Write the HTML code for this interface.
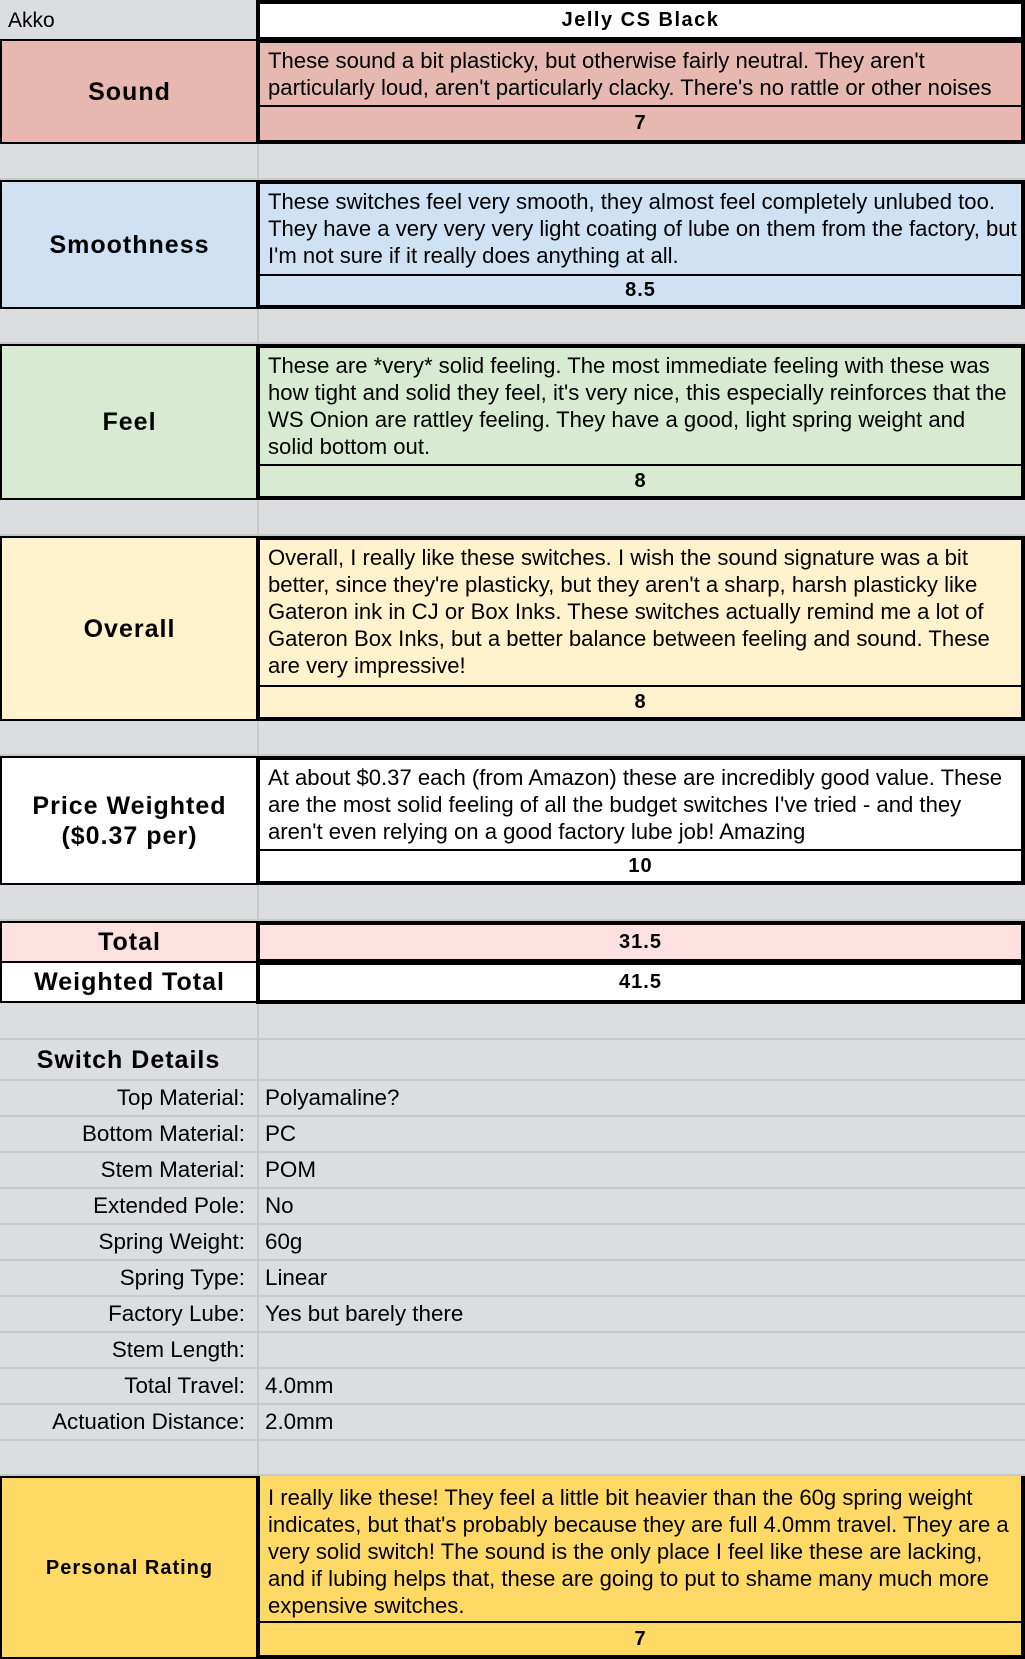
<!DOCTYPE html>
<html><head><meta charset="utf-8"><style>
*{box-sizing:border-box;margin:0;padding:0}
body{width:1025px;height:1659px;position:relative;background:#dcdddf;font-family:"Liberation Sans",Arial,sans-serif;color:#000;overflow:hidden}
.a{position:absolute}
.vl{position:absolute;left:257px;top:0;width:2px;height:1659px;background:#c9c9cb}
.hl{position:absolute;left:0;width:1025px;height:2px;background:#c9c9cb}
.lab{position:absolute;left:0;width:259px;border:2px solid #000;display:flex;align-items:center;justify-content:center;text-align:center;font-weight:bold;font-size:25px;letter-spacing:1px;line-height:30px}
.box{position:absolute;left:256px;width:769px;border:4px solid #000}
.desc{font-size:22.1px;line-height:27px;padding:4px 0 0 8px;border-bottom:2px solid #000;white-space:nowrap;overflow:hidden}
.score{font-weight:bold;font-size:20px;letter-spacing:1px;display:flex;align-items:center;justify-content:center}
.dl{position:absolute;left:0;width:257px;text-align:right;padding-right:12px;font-size:22.4px;height:36px;line-height:36px}
.dv{position:absolute;left:265px;font-size:22.4px;height:36px;line-height:36px}
</style></head><body>
<div class="vl"></div>
<div class="hl" style="top:178px"></div>
<div class="hl" style="top:342px"></div>
<div class="hl" style="top:534px"></div>
<div class="hl" style="top:754px"></div>
<div class="hl" style="top:919px"></div>
<div class="hl" style="top:1038px"></div>
<div class="hl" style="top:1079px"></div>
<div class="hl" style="top:1115px"></div>
<div class="hl" style="top:1151px"></div>
<div class="hl" style="top:1187px"></div>
<div class="hl" style="top:1223px"></div>
<div class="hl" style="top:1259px"></div>
<div class="hl" style="top:1295px"></div>
<div class="hl" style="top:1331px"></div>
<div class="hl" style="top:1367px"></div>
<div class="hl" style="top:1403px"></div>
<div class="hl" style="top:1439px"></div>
<div class="hl" style="top:1474px"></div>

<div class="a" style="left:8px;top:0;height:39px;line-height:42px;font-size:21px">Akko</div>
<div class="box" style="top:0;height:41px;background:#fff;display:flex;align-items:center;justify-content:center;font-weight:bold;font-size:20px;letter-spacing:1.5px">Jelly CS Black</div>

<div class="lab" style="top:39px;height:105px;background:#e6b8af">Sound</div>
<div class="box" style="top:39px;height:105px;background:#e6b8af">
<div class="desc" style="height:64px">These sound a bit plasticky, but otherwise fairly neutral. They aren't<br>particularly loud, aren't particularly clacky. There's no rattle or other noises</div>
<div class="score" style="height:33px">7</div></div>

<div class="lab" style="top:180px;height:129px;background:#cfe2f3">Smoothness</div>
<div class="box" style="top:180px;height:129px;background:#cfe2f3">
<div class="desc" style="height:92px">These switches feel very smooth, they almost feel completely unlubed too.<br>They have a very very very light coating of lube on them from the factory, but<br>I'm not sure if it really does anything at all.</div>
<div class="score" style="height:29px">8.5</div></div>

<div class="lab" style="top:344px;height:156px;background:#d9ead3">Feel</div>
<div class="box" style="top:344px;height:156px;background:#d9ead3">
<div class="desc" style="height:118px">These are *very* solid feeling. The most immediate feeling with these was<br>how tight and solid they feel, it's very nice, this especially reinforces that the<br>WS Onion are rattley feeling. They have a good, light spring weight and<br>solid bottom out.</div>
<div class="score" style="height:30px">8</div></div>

<div class="lab" style="top:536px;height:185px;background:#fff2cc">Overall</div>
<div class="box" style="top:536px;height:185px;background:#fff2cc">
<div class="desc" style="height:147px">Overall, I really like these switches. I wish the sound signature was a bit<br>better, since they're plasticky, but they aren't a sharp, harsh plasticky like<br>Gateron ink in CJ or Box Inks. These switches actually remind me a lot of<br>Gateron Box Inks, but a better balance between feeling and sound. These<br>are very impressive!</div>
<div class="score" style="height:30px">8</div></div>

<div class="lab" style="top:756px;height:129px;background:#fff">Price Weighted<br>($0.37 per)</div>
<div class="box" style="top:756px;height:129px;background:#fff">
<div class="desc" style="height:91px">At about $0.37 each (from Amazon) these are incredibly good value. These<br>are the most solid feeling of all the budget switches I've tried - and they<br>aren't even relying on a good factory lube job! Amazing</div>
<div class="score" style="height:30px">10</div></div>

<div class="lab" style="top:921px;height:42px;background:#fde1e1">Total</div>
<div class="box score" style="top:921px;height:42px;background:#fde1e1">31.5</div>
<div class="lab" style="top:961px;height:42px;background:#fff">Weighted Total</div>
<div class="box score" style="top:961px;height:43px;background:#fff">41.5</div>

<div class="a" style="left:0;width:257px;top:1039px;height:41px;line-height:42px;text-align:center;font-weight:bold;font-size:25px;letter-spacing:1px">Switch Details</div>
<div class="dl" style="top:1080px">Top Material:</div><div class="dv" style="top:1080px">Polyamaline?</div>
<div class="dl" style="top:1116px">Bottom Material:</div><div class="dv" style="top:1116px">PC</div>
<div class="dl" style="top:1152px">Stem Material:</div><div class="dv" style="top:1152px">POM</div>
<div class="dl" style="top:1188px">Extended Pole:</div><div class="dv" style="top:1188px">No</div>
<div class="dl" style="top:1224px">Spring Weight:</div><div class="dv" style="top:1224px">60g</div>
<div class="dl" style="top:1260px">Spring Type:</div><div class="dv" style="top:1260px">Linear</div>
<div class="dl" style="top:1296px">Factory Lube:</div><div class="dv" style="top:1296px">Yes but barely there</div>
<div class="dl" style="top:1332px">Stem Length:</div>
<div class="dl" style="top:1368px">Total Travel:</div><div class="dv" style="top:1368px">4.0mm</div>
<div class="dl" style="top:1404px">Actuation Distance:</div><div class="dv" style="top:1404px">2.0mm</div>

<div class="lab" style="top:1476px;height:183px;background:#ffd966;font-size:20px">Personal Rating</div>
<div class="box" style="top:1476px;height:183px;background:#ffd966;border-top:none">
<div class="desc" style="height:147px;padding-top:8px">I really like these! They feel a little bit heavier than the 60g spring weight<br>indicates, but that's probably because they are full 4.0mm travel. They are a<br>very solid switch! The sound is the only place I feel like these are lacking,<br>and if lubing helps that, these are going to put to shame many much more<br>expensive switches.</div>
<div class="score" style="height:32px">7</div></div>
</body></html>
